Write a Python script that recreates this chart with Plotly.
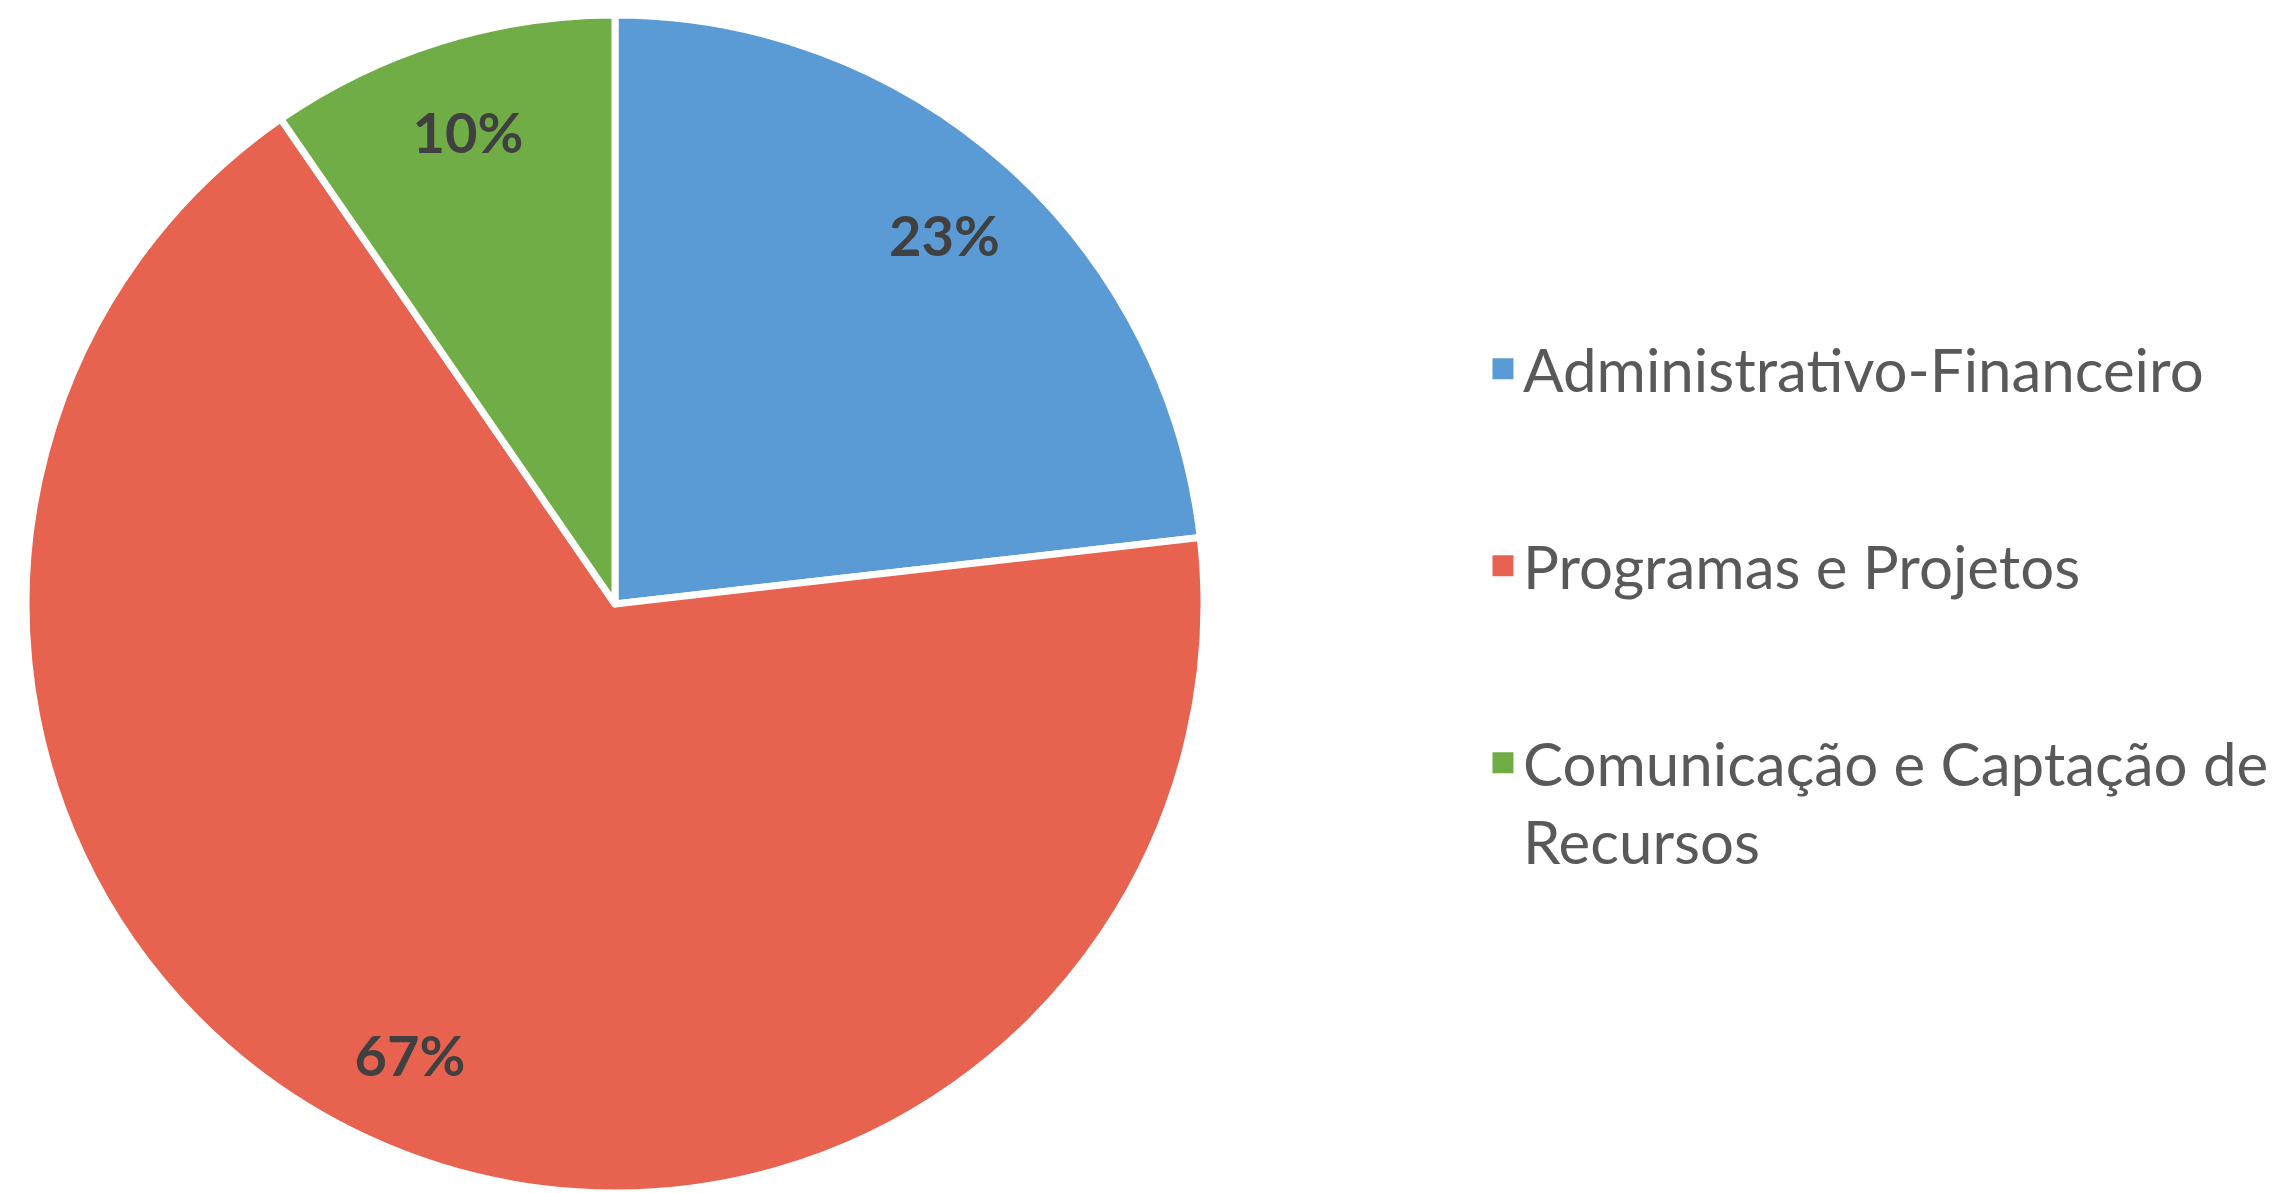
import plotly.graph_objects as go

# ---- data ----
categories = ["Administrativo-Financeiro", "Programas e Projetos", "Comunicação e Captação de Recursos"]
values = [23.2, 67.2, 9.6]
legend_labels = ["Administrativo-Financeiro", "Programas e Projetos", "Comunicação e Captação de<br>Recursos"]
colors = ["#5B9BD5", "#E7624F", "#70AD47"]

pie_domain = dict(x=[0.011414, 0.52853], y=[0, 0.98743])

fig = go.Figure()
# coloured slices
fig.add_trace(go.Pie(
    labels=categories, values=values, sort=False, direction="clockwise", rotation=0,
    marker=dict(colors=colors, line=dict(color="white", width=7)),
    textinfo="none",
    showlegend=False,
    domain=pie_domain,
    hoverinfo="label+percent",
))
# transparent ring carrying the percentage labels (places them towards the rim)
fig.add_trace(go.Pie(
    labels=categories, values=values, sort=False, direction="clockwise", rotation=0,
    hole=0.68,
    marker=dict(colors=["rgba(0,0,0,0)"] * len(values), line=dict(width=0)),
    texttemplate="<b>%{percent:.0%}</b>", textposition="inside",
    insidetextorientation="horizontal",
    textfont=dict(family="Lato", size=56, color="#404040"),
    showlegend=False,
    domain=pie_domain,
    hoverinfo="skip",
))
for name, label, color in zip(categories, legend_labels, colors):
    fig.add_trace(go.Scatter(
        x=[None], y=[None], mode="markers", name=label, legendgroup=name,
        marker=dict(symbol="square", size=16, color=color, line=dict(color=color, width=5)),
    ))

fig.update_layout(
    width=2278, height=1193,
    margin=dict(l=0, r=0, t=0, b=0),
    paper_bgcolor="white", plot_bgcolor="white",
    xaxis=dict(visible=False), yaxis=dict(visible=False),
    legend=dict(
        x=0.651, y=0.729, xanchor="left", yanchor="top",
        font=dict(family="Lato", size=60, color="#595959"),
        tracegroupgap=116, valign="top", itemsizing="trace",
        bgcolor="rgba(0,0,0,0)",
    ),
)
fig.write_html(
    "out.html",
    config={"displayModeBar": False},
    post_script="document.body.style.margin='0';document.body.style.overflow='hidden';",
)
